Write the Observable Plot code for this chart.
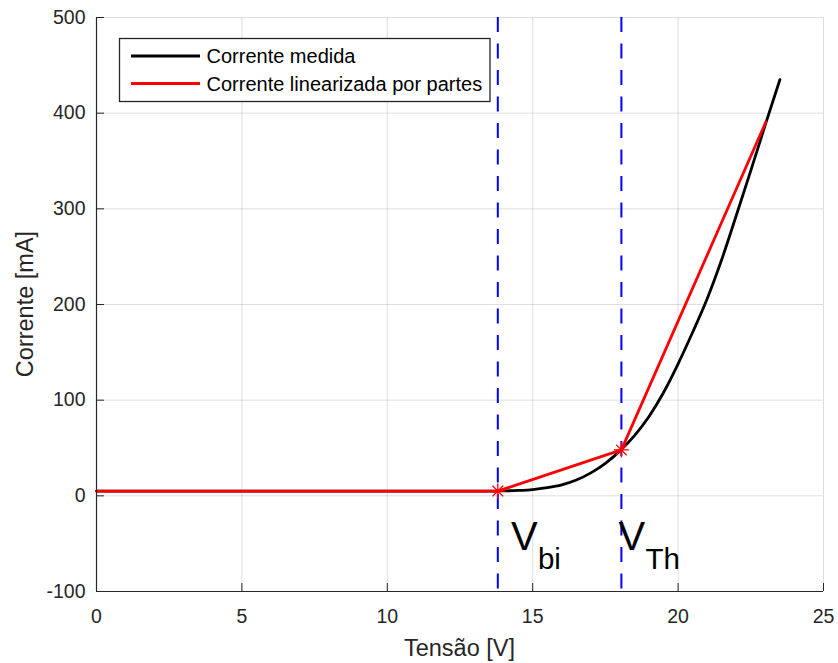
<!DOCTYPE html>
<html>
<head>
<meta charset="utf-8">
<script src="https://cdn.jsdelivr.net/npm/d3@7"></script>
<script src="https://cdn.jsdelivr.net/npm/@observablehq/plot@0.6"></script>
<style>
  body { margin: 0; background: #fff; }
  #chart svg { display: block; }
</style>
</head>
<body>
<div id="chart"></div>
<script>
// Measured current vs. voltage
const tensaoMedida = [0, 0.5, 1, 1.5, 2, 2.5, 3, 3.5, 4, 4.5, 5, 5.5, 6, 6.5, 7, 7.5, 8, 8.5, 9, 9.5,
  10, 10.5, 11, 11.5, 12, 12.5, 13, 13.5, 14, 14.5, 15, 15.5, 16, 16.5, 17, 17.5, 18, 18.5, 19, 19.5,
  20, 20.5, 21, 21.5, 22, 22.5, 23, 23.5];
const correnteMedida = [5, 5, 5, 5, 5, 5, 5, 5, 5, 5, 5, 5, 5, 5, 5, 5, 5, 5, 5, 5,
  5, 5, 5, 5, 5, 5, 5, 5, 5.2, 5.6, 6.5, 8.5, 11.5, 16.5, 24, 34, 47, 63, 83, 108,
  138, 171, 206, 247, 293, 340, 388, 435];

// Piecewise-linear approximation
const tensaoLinear = [0, 13.8, 18.05, 23.02];
const correnteLinear = [5, 5, 48, 391];

// Break points
const vBi = 13.8;
const vTh = 18.05;
const pontosTensao = [vBi, vTh];
const pontosCorrente = [5, 48];

// Annotations
const rotuloX = [14.25, 17.95];
const rotuloY = -57;
const rotuloSub = ["bi", "Th"];

// Axis ticks
const xTicks = [0, 5, 10, 15, 20, 25];
const yTicks = [-100, 0, 100, 200, 300, 400, 500];

const legendas = [
  { nome: "Corrente medida", cor: "#000000" },
  { nome: "Corrente linearizada por partes", cor: "#ff0000" }
];

const W = 838, H = 663;
const mL = 96, mR = 15, mT = 17, mB = 72;
const xDomain = [0, 25], yDomain = [-100, 500];
const tickLen = 8;
const tickDy = tickLen * (yDomain[1] - yDomain[0]) / (H - mT - mB);
const tickDx = tickLen * (xDomain[1] - xDomain[0]) / (W - mL - mR);

const medida = tensaoMedida.map((v, i) => ({ v, i: correnteMedida[i] }));
const linear = tensaoLinear.map((v, i) => ({ v, i: correnteLinear[i] }));
const pontos = pontosTensao.map((v, i) => ({ v, i: pontosCorrente[i] }));
const rotulos = rotuloX.map((x, k) => ({ x, sub: rotuloSub[k] }));

// MATLAB-style eight-armed asterisk
const asterisco = {
  draw(ctx, size) {
    const r = Math.sqrt(size / Math.PI);
    for (let k = 0; k < 4; k++) {
      const a = k * Math.PI / 4;
      ctx.moveTo(r * Math.cos(a), r * Math.sin(a));
      ctx.lineTo(-r * Math.cos(a), -r * Math.sin(a));
    }
  }
};

const fonte = "'Liberation Sans', Arial, Helvetica, sans-serif";
const grid = { stroke: "#000", strokeOpacity: 0.13, strokeWidth: 1 };

const chart = Plot.plot({
  width: W,
  height: H,
  marginLeft: mL,
  marginRight: mR,
  marginTop: mT,
  marginBottom: mB,
  style: { fontFamily: fonte, fontSize: "19.5px", color: "#262626", background: "#fff" },
  x: { domain: xDomain },
  y: { domain: yDomain },
  marks: [
    Plot.gridX(xTicks, grid),
    Plot.gridY(yTicks, grid),
    Plot.axisX(xTicks, { tickSize: 0, tickPadding: 18, label: null, tickFormat: d => String(d) }),
    Plot.axisY(yTicks, { tickSize: 0, tickPadding: 11, label: null, tickFormat: d => String(d) }),
    // inward tick marks
    Plot.ruleX(xTicks, { x: d => d, y1: yDomain[0], y2: yDomain[0] + tickDy, stroke: "#262626" }),
    Plot.ruleY(yTicks, { y: d => d, x1: xDomain[0], x2: xDomain[0] + tickDx, stroke: "#262626" }),
    // threshold voltages
    Plot.ruleX(pontosTensao, { stroke: "#0000ff", strokeWidth: 2, strokeDasharray: "15,11.5" }),
    Plot.line(medida, { x: "v", y: "i", stroke: "#000000", strokeWidth: 2.8, curve: "monotone-x" }),
    Plot.line(linear, { x: "v", y: "i", stroke: "#ff0000", strokeWidth: 2.8 }),
    Plot.dot(pontos, { x: "v", y: "i", symbol: asterisco, r: 7.5, fill: "none", stroke: "#ff0000", strokeWidth: 1.3 }),
    Plot.text(rotulos, { x: "x", y: rotuloY, text: () => "V", textAnchor: "start", lineAnchor: "bottom",
      fontSize: 40, fill: "#000" }),
    Plot.text(rotulos, { x: "x", y: rotuloY, text: "sub", textAnchor: "start", lineAnchor: "bottom",
      dx: 27, dy: 19, fontSize: 29.5, fill: "#000" }),
    // axis lines
    Plot.ruleX([xDomain[0]], { stroke: "#262626", strokeWidth: 1.2 }),
    Plot.ruleY([yDomain[0]], { stroke: "#262626", strokeWidth: 1.2 })
  ]
});

const svg = d3.select(chart);

// axis titles
svg.append("text")
  .attr("x", (mL + W - mR) / 2).attr("y", 656)
  .attr("text-anchor", "middle")
  .attr("font-family", fonte).attr("font-size", 23.5).attr("fill", "#262626")
  .text("Tensão [V]");
svg.append("text")
  .attr("transform", `translate(33,${(mT + H - mB) / 2}) rotate(-90)`)
  .attr("text-anchor", "middle")
  .attr("font-family", fonte).attr("font-size", 23.5).attr("fill", "#262626")
  .text("Corrente [mA]");

// legend box
const leg = svg.append("g").attr("font-family", fonte).attr("font-size", 20)
  .attr("text-anchor", "start");
leg.append("rect")
  .attr("x", 119.5).attr("y", 38.5).attr("width", 370.5).attr("height", 63)
  .attr("fill", "#fff").attr("stroke", "#262626").attr("stroke-width", 1.3);
legendas.forEach((d, k) => {
  const y = 56 + k * 27.5;
  leg.append("line").attr("x1", 131).attr("x2", 200).attr("y1", y).attr("y2", y)
    .attr("stroke", d.cor).attr("stroke-width", 2.8);
  leg.append("text").attr("x", 206.5).attr("y", y).attr("dy", "0.35em")
    .attr("text-anchor", "start").attr("fill", "#000").text(d.nome);
});

document.getElementById("chart").appendChild(chart);
</script>
</body>
</html>
